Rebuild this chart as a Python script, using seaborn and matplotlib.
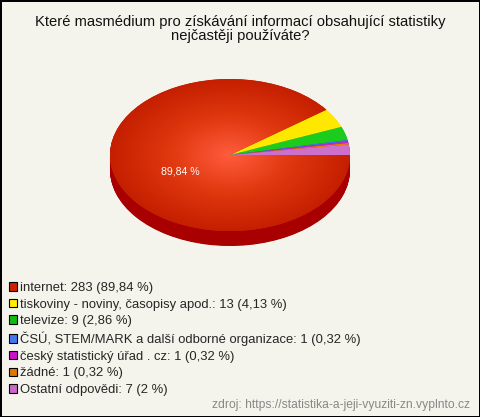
import numpy as np
import matplotlib
matplotlib.use('Agg')
import matplotlib.pyplot as plt
from matplotlib.patches import Patch
import seaborn as sns

# Data
labels = ['internet', 'tiskoviny - noviny, časopisy apod.', 'televize',
          'ČSÚ, STEM/MARK a další odborné organizace', 'český statistický úřad . cz',
          'žádné', 'Ostatní odpovědi']
counts = [283, 13, 9, 1, 1, 1, 7]
pct_text = ['89,84', '4,13', '2,86', '0,32', '0,32', '0,32', '2']

top_colors = ['#d42a0c', '#ffe800', '#1ccc1c', '#4a6cff', '#cc22cc', '#ee7a00', '#cc70cc']
side_colors = ['#a80000', '#c8b400', '#109010', '#2a40c0', '#901090', '#b05800', '#9a4c9a']
legend_colors = ['#cc2200', '#ffee00', '#11bb11', '#4477ee', '#cc11cc', '#dd7700', '#cc66cc']

title = 'Které masmédium pro získávání informací obsahující statistiky\nnejčastěji používáte?'
source = 'zdroj: https://statistika-a-jeji-vyuziti-zn.vyplnto.cz'

sns.set_style('white')
plt.rcParams['font.family'] = ['Liberation Sans', 'DejaVu Sans']

W, H = 480, 417
bg = '#f4f4ec'
fig = plt.figure(figsize=(W / 100, H / 100), dpi=100)
fig.patch.set_facecolor(bg)
fig.patch.set_edgecolor('black')
fig.patch.set_linewidth(2)

fig.text(0.5, 1 - 15 / H, title, ha='center', va='top', fontsize=10.6, color='#111111',
         linespacing=1.0)

# pie area in pixels: top face 110..350 x 79..231, depth ~15 px
depth = 15 / 76
left, right, top = 110, 350, 79
height_px = 152 + 15
ax = fig.add_axes([left / W, 1 - (top + height_px) / H, (right - left) / W, height_px / H])
ax.set_facecolor('none')

n = 30
for k in range(n, 0, -1):
    ax.pie(counts, colors=side_colors, startangle=0, counterclock=False,
           center=(0, -depth * k / n), radius=1, wedgeprops=dict(linewidth=0))

wedges, _, autotexts = ax.pie(
    counts, colors=top_colors, startangle=0, counterclock=False, radius=1,
    autopct=lambda p: f'{p:.2f} %'.replace('.', ',') if p > 50 else '',
    pctdistance=0.46, wedgeprops=dict(linewidth=0),
    textprops=dict(color='white', fontsize=7.6))

# radial gradient on the big slice
yy, xx = np.mgrid[-1:1:300j, -1:1:300j]
rr = np.clip(np.sqrt(xx ** 2 + yy ** 2), 0, 1)
cmap = matplotlib.colors.LinearSegmentedColormap.from_list('g', ['#ff5c3e', '#e0380f', '#c41f00'])
im = ax.imshow(rr, extent=(-1, 1, -1, 1), cmap=cmap, vmin=0, vmax=1, origin='lower', zorder=1.5)
im.set_clip_path(wedges[0])
for t in autotexts:
    t.set_zorder(3)
autotexts[0].set_position((-0.41, -0.22))

ax.set_aspect('auto')
ax.set_xlim(-1, 1)
ax.set_ylim(-1 - depth, 1)
ax.axis('off')

handles = [Patch(facecolor=c, edgecolor='black', linewidth=0.8) for c in legend_colors]
leg_labels = [f'{l}: {c} ({p} %)' for l, c, p in zip(labels, counts, pct_text)]
fig.legend(handles, leg_labels, loc='upper left', bbox_to_anchor=(9 / W, 1 - 282 / H),
           frameon=False, fontsize=9.4, handlelength=0.62, handleheight=0.62,
           handletextpad=0.2, labelspacing=0.35, borderaxespad=0, borderpad=0)

fig.text(470 / W, 1 - 405 / H, source, ha='right', va='center', fontsize=8.7, color='#888888')

fig.savefig('out.png', dpi=100, facecolor=bg, edgecolor='black')
